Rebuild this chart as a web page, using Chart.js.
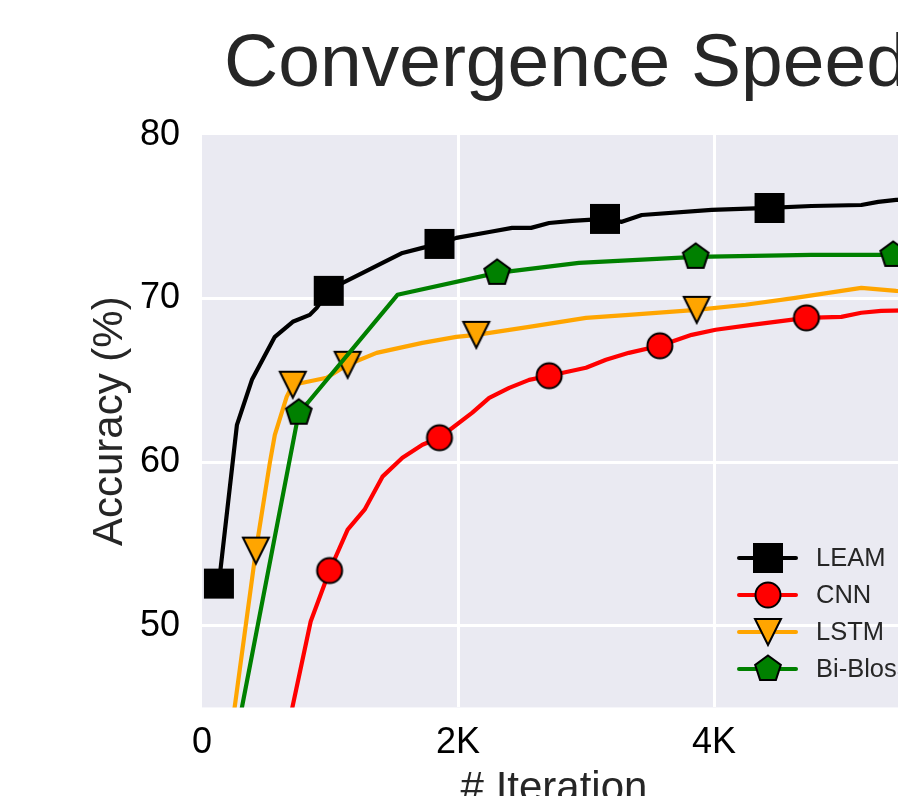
<!DOCTYPE html>
<html>
<head>
<meta charset="utf-8">
<script src="https://cdn.jsdelivr.net/npm/chart.js@4.4.0/dist/chart.umd.min.js"></script>
<style>
html,body{margin:0;padding:0;background:#fff;overflow:hidden;width:898px;height:796px;}
#wrap{position:absolute;left:0;top:0;width:1126px;height:799px;}
canvas{display:block;}
</style>
</head>
<body>
<div id="wrap"><canvas id="c" width="1126" height="799"></canvas></div>
<script>
// ---- data ----
const chartTitle = 'Convergence Speed';
const xLabel = '# Iteration';
const yLabel = 'Accuracy (%)';
const xTicks = [0, 2000, 4000];
const yTicks = [50, 60, 70, 80];
const seriesNames = ['LEAM', 'CNN', 'LSTM', 'Bi-Blosan'];

const leamIter = [132, 273, 390, 569, 709, 842, 896, 990, 1099, 1255, 1410, 1566, 1722, 1855, 1987, 2244, 2423, 2571, 2712, 2891, 3148, 3280, 3436, 3982, 4434, 4761, 5151, 5283, 5423, 5500];
const leamAcc  = [52.57, 62.28, 65.03, 67.66, 68.58, 69.0, 69.43, 70.47, 70.96, 71.57, 72.18, 72.79, 73.10, 73.34, 73.71, 74.07, 74.32, 74.32, 74.62, 74.75, 74.87, 74.69, 75.11, 75.42, 75.54, 75.66, 75.72, 75.91, 76.03, 76.05];
const leamMarks = [0, 7, 13, 20, 24];

const cnnIter = [608, 849, 997, 1138, 1270, 1410, 1566, 1722, 1855, 2112, 2244, 2400, 2556, 2712, 3000, 3156, 3335, 3577, 3826, 4013, 4293, 4722, 4995, 5151, 5306, 5500];
const cnnAcc  = [41.4, 50.25, 53.37, 55.87, 57.09, 59.11, 60.27, 61.06, 61.49, 63.02, 63.93, 64.54, 65.03, 65.28, 65.77, 66.26, 66.68, 67.11, 67.78, 68.09, 68.39, 68.82, 68.88, 69.13, 69.25, 69.28];
const cnnMarks = [2, 8, 13, 17, 21];

const lstmIter = [203, 421, 530, 569, 662, 709, 787, 974, 1138, 1364, 1722, 1987, 2143, 2556, 3000, 3335, 3865, 4247, 4636, 5151, 5423, 5500];
const lstmAcc  = [42.0, 54.59, 59.96, 61.67, 64.0, 64.73, 64.85, 65.16, 65.95, 66.68, 67.29, 67.66, 67.78, 68.27, 68.82, 69.0, 69.31, 69.62, 70.04, 70.65, 70.47, 70.45];
const lstmMarks = [1, 5, 8, 12, 16];

const biIter = [265, 756, 826, 1527, 2306, 2945, 3857, 4761, 5400, 5500];
const biAcc  = [43.1, 63.02, 63.63, 70.23, 71.57, 72.18, 72.55, 72.67, 72.67, 72.67];
const biMarks = [1, 4, 6, 8];

// ---- styles ----
const FONT = '"Liberation Sans", Arial, Helvetica, sans-serif';
Chart.defaults.font.family = FONT;

function makeMarker(kind, fill) {
  const s = 34, m = s / 2;
  const c = document.createElement('canvas');
  c.width = s; c.height = s;
  const g = c.getContext('2d');
  g.fillStyle = fill; g.strokeStyle = '#000'; g.lineWidth = 2; g.lineJoin = 'miter';
  g.beginPath();
  if (kind === 'square') {
    g.rect(m - 14, m - 14, 28, 28);
  } else if (kind === 'circle') {
    g.arc(m, m, 12.5, 0, Math.PI * 2);
  } else if (kind === 'tri') {
    g.moveTo(m - 13, m - 13); g.lineTo(m + 13, m - 13); g.lineTo(m, m + 13); g.closePath();
  } else {
    const R = 13.5;
    for (let k = 0; k < 5; k++) {
      const a = -Math.PI / 2 + k * 2 * Math.PI / 5;
      const px = m + R * Math.cos(a), py = m + R * Math.sin(a);
      if (k) g.lineTo(px, py); else g.moveTo(px, py);
    }
    g.closePath();
  }
  g.fill(); g.stroke();
  return c;
}

function mkData(xs, ys) { return xs.map((x, i) => ({x: x, y: ys[i]})); }

function mkDataset(label, xs, ys, marks, color, marker, order) {
  return {
    label: label,
    data: mkData(xs, ys),
    borderColor: color,
    backgroundColor: color,
    borderWidth: 4.2,
    borderJoinStyle: 'round',
    tension: 0,
    fill: false,
    pointStyle: marker,
    pointRadius: (ctx) => marks.includes(ctx.dataIndex) ? 14 : 0,
    pointHoverRadius: (ctx) => marks.includes(ctx.dataIndex) ? 14 : 0,
    clip: 0,
    order: order
  };
}

const datasets = [
  mkDataset(seriesNames[0], leamIter, leamAcc, leamMarks, '#000000', makeMarker('square', '#000000'), 3),
  mkDataset(seriesNames[1], cnnIter, cnnAcc, cnnMarks, '#FF0000', makeMarker('circle', '#FF0000'), 2),
  mkDataset(seriesNames[2], lstmIter, lstmAcc, lstmMarks, '#FFA500', makeMarker('tri', '#FFA500'), 1),
  mkDataset(seriesNames[3], biIter, biAcc, biMarks, '#008000', makeMarker('pent', '#008000'), 0)
];

const bgPlugin = {
  id: 'bg',
  beforeDraw(chart) {
    const {ctx, chartArea: a} = chart;
    ctx.save();
    ctx.fillStyle = '#ffffff';
    ctx.fillRect(0, 0, chart.width, chart.height);
    ctx.fillStyle = '#EAEAF2';
    ctx.fillRect(a.left, a.top, a.right - a.left, a.bottom - a.top);
    ctx.restore();
  }
};

const titlePlugin = {
  id: 'figTitle',
  afterDraw(chart) {
    const {ctx, chartArea: a} = chart;
    ctx.save();
    ctx.fillStyle = '#262626';
    ctx.font = '75px ' + FONT;
    ctx.textAlign = 'center';
    ctx.textBaseline = 'middle';
    ctx.fillText(chartTitle, a.left + 364, 65);
    ctx.restore();
  }
};

const legendPlugin = {
  id: 'insideLegend',
  afterDraw(chart) {
    const {ctx, chartArea: a} = chart;
    ctx.save();
    chart.data.datasets.forEach((ds, i) => {
      const y = a.top + 423 + i * 37;
      const x0 = a.left + 537;
      ctx.strokeStyle = ds.borderColor;
      ctx.lineWidth = 4;
      ctx.lineCap = 'round';
      ctx.beginPath(); ctx.moveTo(x0, y); ctx.lineTo(x0 + 57, y); ctx.stroke();
      const img = ds.pointStyle;
      ctx.drawImage(img, Math.round(x0 + 28.5 - img.width / 2), Math.round(y - img.height / 2));
      ctx.fillStyle = '#262626';
      ctx.font = '25.5px ' + FONT;
      ctx.textBaseline = 'middle';
      ctx.textAlign = 'left';
      ctx.fillText(ds.label, a.left + 614, y + 1);
    });
    ctx.restore();
  }
};

new Chart(document.getElementById('c'), {
  type: 'line',
  data: { datasets: datasets },
  plugins: [bgPlugin, titlePlugin, legendPlugin],
  options: {
    responsive: false,
    animation: false,
    events: [],
    layout: { padding: { left: 0, right: 220, top: 135, bottom: 0 } },
    plugins: {
      legend: { display: false },
      tooltip: { enabled: false },
      title: { display: false }
    },
    scales: {
      x: {
        type: 'linear',
        min: 0,
        max: 5500,
        afterBuildTicks: (s) => { s.ticks = xTicks.map(v => ({value: v})); },
        ticks: {
          callback: (v) => v === 0 ? '0' : (v / 1000) + 'K',
          color: '#000',
          font: { size: 36, lineHeight: 0.6 },
          padding: 25,
          maxRotation: 0,
          autoSkip: false
        },
        grid: {
          color: (ctx) => (ctx.tick && ctx.tick.value === 0) ? 'rgba(0,0,0,0)' : '#ffffff',
          lineWidth: 3,
          drawTicks: false
        },
        border: { display: false },
        title: {
          display: true,
          text: xLabel,
          color: '#262626',
          font: { size: 42, lineHeight: 0.476 },
          padding: { top: 0, bottom: 0 }
        }
      },
      y: {
        min: 45,
        max: 80,
        afterBuildTicks: (s) => { s.ticks = yTicks.map(v => ({value: v})); },
        afterFit: (s) => { s.width = 202; },
        ticks: {
          color: '#000',
          font: { size: 36, lineHeight: 1.2 },
          padding: 22
        },
        grid: {
          color: (ctx) => (ctx.tick && ctx.tick.value === 80) ? 'rgba(0,0,0,0)' : '#ffffff',
          lineWidth: 3,
          drawTicks: false
        },
        border: { display: false },
        title: {
          display: true,
          text: yLabel,
          color: '#262626',
          font: { size: 42, lineHeight: 1.0 },
          padding: { top: 89, bottom: 0 }
        }
      }
    }
  }
});
</script>
</body>
</html>
